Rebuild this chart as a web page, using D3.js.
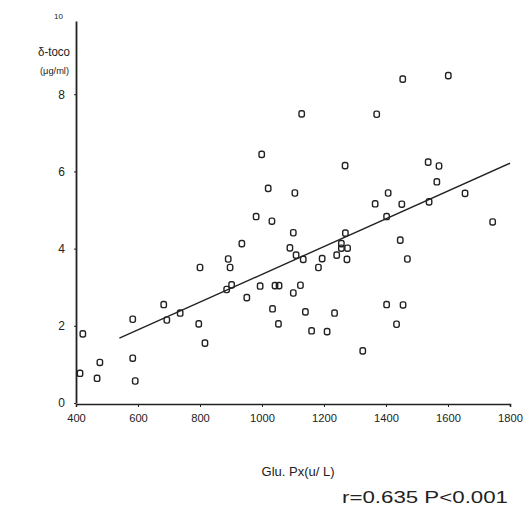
<!DOCTYPE html>
<html>
    <head>
        <style>
            body { margin: 0; background: #fff; }
            svg text { font-family: "Liberation Sans", Arial, sans-serif; fill: #222; }
        </style>
        <script src="https://cdnjs.cloudflare.com/ajax/libs/d3/7.8.5/d3.min.js"></script>
    </head>
    <body>
        <div id="chart"></div>
        <script>
            // Glu. Px (x) vs delta-toco (y)
            const gluPx = [1454, 1601, 1128, 1370, 999, 1020, 1106, 1268, 1536, 1571, 1564, 1407, 1655,
                981, 1032, 1101, 935, 1090, 1110, 891, 897, 800, 902, 886, 994, 1042, 1055, 1101, 951,
                683, 736, 693, 583, 1034, 796, 1053, 422, 816, 477, 583, 413, 468, 591, 1160, 1210, 1325,
                1365, 1451, 1402, 1539, 1744, 1269, 1256, 1256, 1276, 1241, 1274, 1133, 1194, 1182,
                1446, 1469, 1124, 1140, 1234, 1402, 1455, 1434];
            const deltaToco = [8.39, 8.48, 7.49, 7.48, 6.44, 5.56, 5.44, 6.15, 6.24, 6.14, 5.73, 5.44, 5.43,
                4.83, 4.71, 4.41, 4.13, 4.02, 3.83, 3.73, 3.51, 3.51, 3.06, 2.94, 3.03, 3.04, 3.04, 2.85, 2.73,
                2.55, 2.33, 2.15, 2.17, 2.44, 2.05, 2.05, 1.79, 1.55, 1.05, 1.16, 0.77, 0.64, 0.57, 1.87, 1.85, 1.35,
                5.16, 5.15, 4.83, 5.21, 4.69, 4.40, 4.13, 4.01, 4.01, 3.83, 3.72, 3.72, 3.74, 3.51,
                4.22, 3.73, 3.05, 2.36, 2.33, 2.55, 2.54, 2.04];
            const xTicks = [400, 600, 800, 1000, 1200, 1400, 1600, 1800];
            const yTicks = [0, 2, 4, 6, 8];
            // regression line
            const fitRange = [540, 1800];
            const fitIntercept = -0.265;
            const fitSlope = 0.003598;

            const w = 529, h = 514;
            const svg = d3.select("#chart").append("svg")
                .attr("width", w).attr("height", h);

            const xScale = d3.scaleLinear().domain([400, 1800]).range([76, 510]);
            const yScale = d3.scaleLinear().domain([0, 10]).range([403, 17]);

            const xAxis = d3.axisBottom(xScale).tickValues(xTicks).tickSize(3).tickPadding(6)
                .tickFormat(d => String(d));
            const yAxis = d3.axisLeft(yScale).tickValues(yTicks).tickSize(2).tickPadding(9)
                .tickFormat(d => String(d));

            const gx = svg.append("g")
                .attr("transform", "translate(0,404)")
                .call(xAxis);
            gx.select(".domain").attr("stroke", "#222").attr("stroke-width", 1.6);
            gx.selectAll("line").attr("stroke", "#222");
            gx.selectAll("text").style("font-size", "10px").attr("dy", "0.9em")
                .attr("textLength", d => String(d).length * 6.2).attr("lengthAdjust", "spacingAndGlyphs");

            // y axis line runs a bit higher than the top tick label
            const gy = svg.append("g")
                .attr("transform", "translate(76,0)")
                .call(d3.axisLeft(d3.scaleLinear().domain([0, 10]).range([403, 21])).tickValues([]).tickSizeOuter(0));
            gy.select(".domain").attr("stroke", "#222").attr("stroke-width", 1.8);

            const gy2 = svg.append("g").attr("transform", "translate(76,0)").call(yAxis);
            gy2.select(".domain").remove();
            gy2.selectAll("line").attr("stroke", "#222");
            gy2.selectAll("text").style("font-size", "12px");

            svg.append("text").attr("x", 63).attr("y", yScale(10) + 2)
                .attr("text-anchor", "end").style("font-size", "8px").attr("fill", "#444").text("10");

            svg.append("text").attr("x", 38).attr("y", 56).style("font-size", "12px")
                .attr("textLength", 32).attr("lengthAdjust", "spacingAndGlyphs").text("δ-toco");
            svg.append("text").attr("x", 40).attr("y", 74).style("font-size", "9px")
                .attr("textLength", 29).attr("lengthAdjust", "spacingAndGlyphs").text("(μg/ml)");

            // fit line
            svg.append("line")
                .attr("x1", xScale(fitRange[0])).attr("y1", yScale(fitIntercept + fitSlope * fitRange[0]))
                .attr("x2", xScale(fitRange[1])).attr("y2", yScale(fitIntercept + fitSlope * fitRange[1]))
                .attr("stroke", "#222").attr("stroke-width", 1.4);

            const points = gluPx.map((g, i) => ({ x: g, y: deltaToco[i] }));
            svg.selectAll("rect.dot")
                .data(points)
                .enter()
                .append("rect")
                .attr("class", "dot")
                .attr("x", d => xScale(d.x) - 2.7)
                .attr("y", d => yScale(d.y) - 3.1)
                .attr("width", 5.4)
                .attr("height", 6.2)
                .attr("rx", 2)
                .attr("fill", "none")
                .attr("stroke", "#222")
                .attr("stroke-width", 1.4);

            svg.append("text").attr("x", 298).attr("y", 476).attr("text-anchor", "middle")
                .style("font-size", "13px").text("Glu. Px(u/ L)");
            svg.append("text").attr("x", 342).attr("y", 503)
                .style("font-size", "16px").attr("textLength", 166).attr("lengthAdjust", "spacingAndGlyphs")
                .text("r=0.635  P<0.001");
        </script>
    </body>
</html>
